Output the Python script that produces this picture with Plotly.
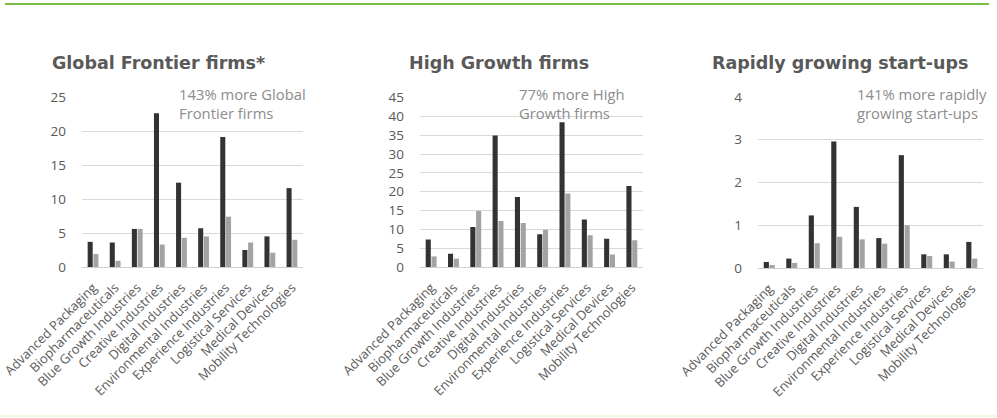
import plotly.graph_objects as go

categories = ["Advanced Packaging", "Biopharmaceuticals", "Blue Growth Industries",
              "Creative Industries", "Digital Industries", "Environmental Industries",
              "Experience Industries", "Logistical Services", "Medical Devices",
              "Mobility Technologies"]

gff_dark = [3.7, 3.6, 5.6, 22.6, 12.4, 5.7, 19.1, 2.5, 4.5, 11.6]
gff_light = [1.9, 0.9, 5.6, 3.3, 4.3, 4.5, 7.4, 3.6, 2.1, 4.0]

hgf_dark = [7.3, 3.5, 10.6, 34.9, 18.6, 8.7, 38.4, 12.6, 7.5, 21.5]
hgf_light = [2.8, 2.2, 14.9, 12.2, 11.7, 9.9, 19.5, 8.4, 3.3, 7.1]

rgs_dark = [0.14, 0.22, 1.23, 2.96, 1.43, 0.70, 2.64, 0.32, 0.32, 0.61]
rgs_light = [0.07, 0.12, 0.58, 0.73, 0.67, 0.57, 1.00, 0.28, 0.15, 0.22]

titles = ["Global Frontier firms*", "High Growth firms", "Rapidly growing start-ups"]
notes = ["143% more Global<br>Frontier firms", "77% more High<br>Growth firms",
         "141% more rapidly<br>growing start-ups"]
yticks = [[0, 5, 10, 15, 20, 25], [0, 5, 10, 15, 20, 25, 30, 35, 40, 45], [0, 1, 2, 3, 4]]
yranges = [[0, 25], [0, 45], [0, 4]]

W, H = 997, 418
DARK = "#333333"
LIGHT = "#a3a3a3"
TXT = "#595959"

panels = [
    dict(x0=82, x1=303, y0=267, y1=97, dark=gff_dark, light=gff_light, tx=50, nx=177),
    dict(x0=420, x1=643, y0=267, y1=97.5, dark=hgf_dark, light=hgf_light, tx=407, nx=517),
    dict(x0=758, x1=983, y0=268, y1=97, dark=rgs_dark, light=rgs_light, tx=710, nx=855),
]

fig = go.Figure()
layout = dict(
    width=W, height=H, margin=dict(l=0, r=0, t=0, b=0, autoexpand=False),
    paper_bgcolor="white", plot_bgcolor="white",
    showlegend=False, barmode="group", bargap=0.48, bargroupgap=0.12,
    font=dict(family="Open Sans", color=TXT),
)
annotations = []
shapes = []
for i, p in enumerate(panels):
    n = "" if i == 0 else str(i + 1)
    xa, ya = "x" + n, "y" + n
    fig.add_trace(go.Bar(x=categories, y=p["dark"], marker=dict(color=DARK, line=dict(width=0)),
                         xaxis=xa, yaxis=ya))
    fig.add_trace(go.Bar(x=categories, y=p["light"], marker=dict(color=LIGHT, line=dict(width=0)),
                         xaxis=xa, yaxis=ya))
    layout["xaxis" + n] = dict(
        domain=[p["x0"] / W, p["x1"] / W], anchor=ya, tickangle=-45, automargin=False,
        tickfont=dict(size=13, color=TXT, family="Open Sans"), ticklabelstandoff=7,
        showgrid=False, showline=True, linecolor="#d0d0d0", linewidth=1,
        ticks="", fixedrange=True,
    )
    layout["yaxis" + n] = dict(
        domain=[1 - p["y0"] / H, 1 - p["y1"] / H], anchor=xa, range=yranges[i],
        tickvals=yticks[i], showgrid=True, gridcolor="#d9d9d9", gridwidth=1,
        zeroline=False, showline=False, ticks="", ticklabelstandoff=15, automargin=False,
        tickfont=dict(size=13.5, color=TXT, family="Open Sans"), fixedrange=True,
    )
    annotations.append(dict(
        text="<b>" + titles[i] + "</b>", xref="paper", yref="paper",
        x=p["tx"] / W, y=1 - 63 / H, xanchor="left", yanchor="middle", showarrow=False,
        font=dict(family="DejaVu Sans", size=17.5, color=TXT)))
    annotations.append(dict(
        text=notes[i], xref="paper", yref="paper",
        x=p["nx"] / W, y=1 - 82 / H, xanchor="left", yanchor="top", align="left",
        showarrow=False, font=dict(family="Open Sans", size=14.8, color="#8c8c8c")))

shapes.append(dict(type="line", xref="paper", yref="paper", x0=5 / W, x1=989 / W,
                   y0=1 - 4 / H, y1=1 - 4 / H, line=dict(color="#77c043", width=2)))
shapes.append(dict(type="line", xref="paper", yref="paper", x0=0, x1=1,
                   y0=1 - 416 / H, y1=1 - 416 / H, line=dict(color="#f7f5e6", width=2)))
layout["annotations"] = annotations
layout["shapes"] = shapes
fig.update_layout(**layout)
fig.write_html("out.html")
